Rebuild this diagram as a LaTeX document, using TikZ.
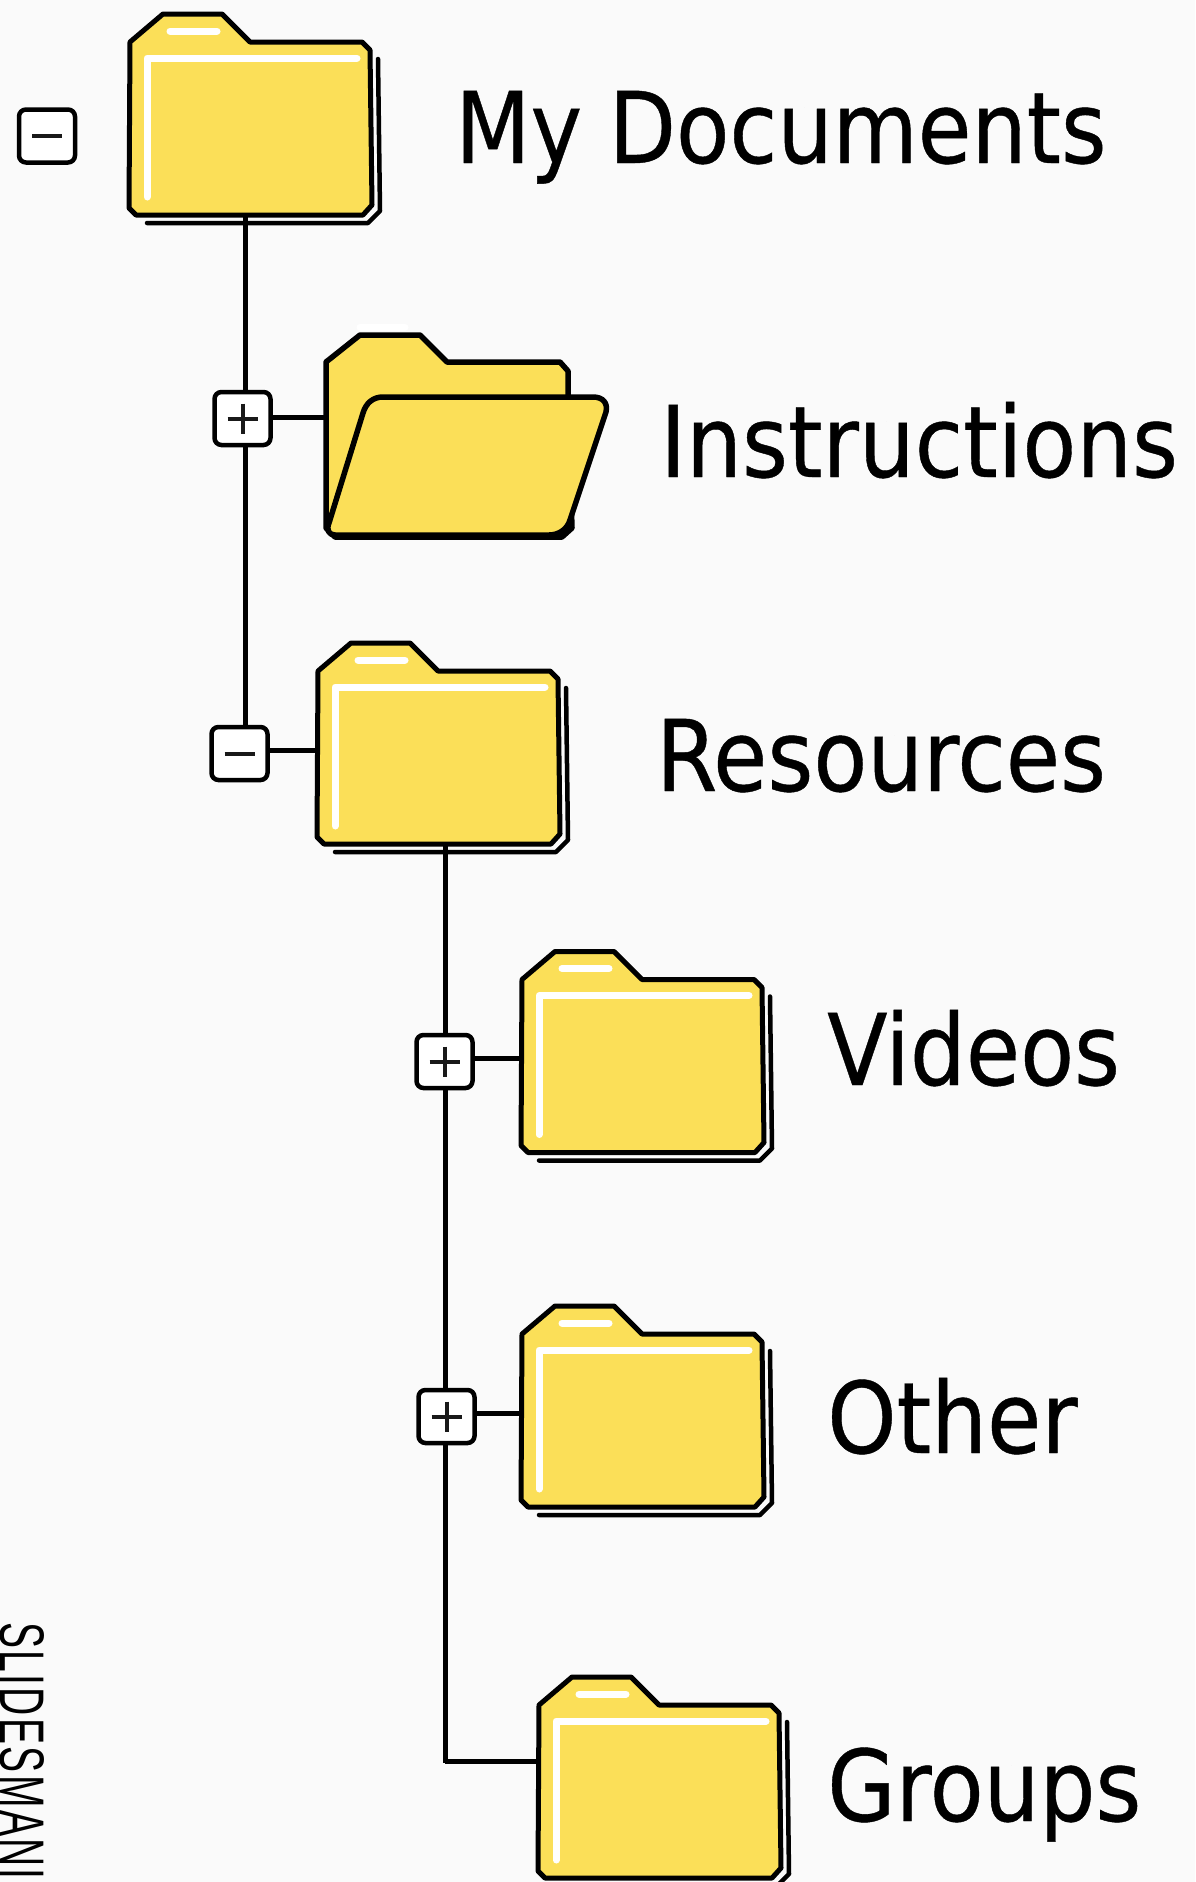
\documentclass[tikz,border=0pt]{standalone}
\usepackage{fontspec}
\setmainfont[FakeBold=0.4]{DejaVu Sans Condensed}
\newfontfamily\wmfont[LetterSpace=6]{Liberation Sans}
\definecolor{bgc}{HTML}{FAFAFA}
\definecolor{fy}{HTML}{FBDF58}
\tikzset{
  outline/.style={draw=black,line width=5pt,line join=round,fill=fy},
  shine/.style={draw=white,line width=7pt,line cap=round,line join=round},
  shade/.style={draw=black,line width=4.5pt,line cap=round,line join=round},
  conn/.style={draw=black,line width=5pt},
  togglebox/.style={draw=black,line width=4.5pt,fill=white,rounded corners=7pt,minimum width=56pt,minimum height=53pt,inner sep=0pt},
  sign/.style={draw=black!90,line width=4pt},
  fanchor/.style={minimum width=242pt,minimum height=201pt,inner sep=0pt,outer sep=0pt,anchor=north west},
  label/.style={anchor=base west,inner sep=0pt,xscale=0.99,font=\fontsize{99}{110}\selectfont,text=black}
}
\newcommand{\closedfolder}[3]{%
  \begin{scope}[shift={(#2,#3)}]
    \draw[shade] (248,45) -- (250,197) -- (238,209) -- (17,209);
    \path[outline] (0,28) -- (33,0) -- (92,0) -- (120,28) -- (232,28) -- (240,36) -- (242,191) -- (233,201) -- (6,201) -- (-1,194) -- cycle;
    \draw[shine] (40,17) -- (87,17);
    \draw[shine] (17,183) -- (17,44) -- (227,44);
  \end{scope}}
\newcommand{\plussign}[1]{\draw[sign,shift={(#1)}] (-15,0) -- (15,0) (0,-15) -- (0,15);}
\newcommand{\minussign}[1]{\draw[sign,shift={(#1)}] (-15,0) -- (15,0);}
\begin{document}
\begin{tikzpicture}[x=1pt,y=-1pt]
\useasboundingbox (0,0) rectangle (1195,1882);
\fill[bgc] (0,0) rectangle (1195,1882);
\clip (0,0) rectangle (1195,1882);

% anchors
\node[fanchor] (f1) at (130,14) {};
\node[fanchor] (f2) at (326,334) {};
\node[fanchor] (f3) at (318,643) {};
\node[fanchor] (f4) at (522,951.5) {};
\node[fanchor] (f5) at (522,1306) {};
\node[fanchor] (f6) at (539,1677) {};
\coordinate (t1) at (245,0);
\coordinate (t2) at (445,0);
\coordinate (end2) at (445,1763);
\node[togglebox] (b1) at (47,136) {};

% connectors
\node[togglebox,draw=none,fill=none] (b2p) at (242.5,418.5) {};
\node[togglebox,draw=none,fill=none] (b3p) at (239.5,753.5) {};
\node[togglebox,draw=none,fill=none] (b4p) at (444.5,1061.5) {};
\node[togglebox,draw=none,fill=none] (b5p) at (446.5,1416.5) {};
\draw[conn] (f1.south -| t1) -- (b3p.north -| t1);
\draw[conn] (f3.south -| t2) -- (end2);
\draw[conn] (b2p.east |- 0,417) -- (f2.west |- 0,417);
\draw[conn] (b3p.east |- 0,750) -- (f3.west |- 0,750);
\draw[conn] (b4p.east |- 0,1058) -- (f4.west |- 0,1058);
\draw[conn] (b5p.east |- 0,1413) -- (f5.west |- 0,1413);
\draw[conn] (end2 |- 0,1761) -- (f6.west |- 0,1761);

% toggles
\node[togglebox] (b2) at (b2p) {};
\node[togglebox] (b3) at (b3p) {};
\node[togglebox] (b4) at (b4p) {};
\node[togglebox] (b5) at (b5p) {};
\minussign{b1}
\plussign{b2}
\minussign{b3}
\plussign{b4}
\plussign{b5}

% folders
\closedfolder{f1}{130}{14}
\closedfolder{f3}{318}{643}
\closedfolder{f4}{522}{951.5}
\closedfolder{f5}{522}{1306}
\closedfolder{f6}{539}{1677}

% open folder
\draw[shine] (360,327) -- (405,327);
\path[outline,line width=5.5pt] (326,362) -- (360,335) -- (420,335) -- (447,362) -- (560,362) -- (568,371) -- (568,400) -- (572,528) -- (562,537) -- (335,537) -- (326,528) -- cycle;
\path[outline,line width=5.5pt] (383,397) -- (593,397) .. controls (603,397) and (608,403) .. (606,412) -- (570,520) .. controls (567,530) and (558,535) .. (549,535) -- (335,535) .. controls (329,535) and (326,530) .. (329,523) -- (363,413) .. controls (366,403) and (373,397) .. (383,397) -- cycle;

% labels
\node[label,xscale=0.99] (l1) at (455,163) {My \kern-1pt Documents};
\node[label] (l2) at (660,477) {Instructions};
\node[label] (l3) at (656,791) {Resources};
\node[label] (l4) at (827,1085) {Videos};
\node[label] (l5) at (827,1453) {Other};
\node[label] (l6) at (827,1821) {Groups};
\node[anchor=base west,inner sep=0pt,rotate=-90,xscale=0.62,font=\wmfont\fontsize{63}{63}\selectfont,text=black] (wm) at (0,1622) {SLIDESMANIA};
\end{tikzpicture}
\end{document}
